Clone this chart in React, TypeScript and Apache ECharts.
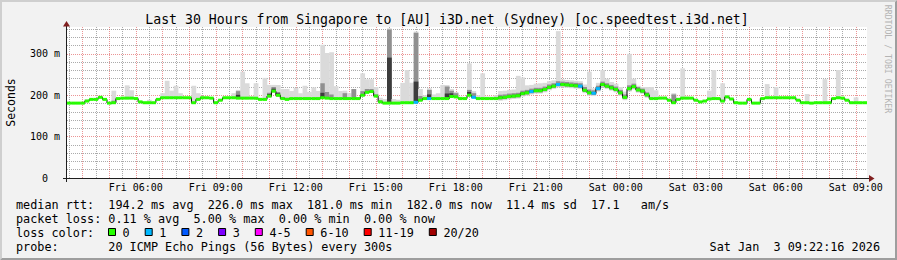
import React, { useEffect, useRef } from "react";
import * as echarts from "echarts";

// ---- time frame (hours after Fri 00:00) ----
const START_HOUR = 3.42;
const SPAN_HOURS = 30;
const SAMPLE_HOURS = 1 / 6; // one value per 10 minutes
const Y_MAX = 365;

// ---- median RTT (ms), one value per 10 min ----
const medianRtt = [
  181, 181, 181, 181, 186, 190, 190, 195, 190, 181,
  182, 192, 193, 193, 193, 192, 184, 182, 182, 182,
  190, 194, 194, 194, 194, 194, 194, 194, 182, 190,
  194, 194, 193, 182, 188, 194, 194, 194, 193, 193,
  193, 193, 193, 190, 190, 198, 210, 200, 192, 190,
  192, 192, 192, 192, 192, 192, 192, 194, 193, 192,
  192, 192, 192, 192, 192, 192, 200, 207, 209, 198,
  184, 181, 181, 181, 181, 182, 182, 182, 183, 188,
  192, 192, 192, 192, 192, 192, 197, 196, 192, 192,
  200, 195, 192, 192, 192, 192, 192, 194, 195, 197,
  198, 199, 204, 206, 209, 211, 211, 214, 219, 222,
  226, 226, 225, 224, 223, 222, 212, 206, 205, 216,
  226, 222, 218, 214, 206, 195, 216, 221, 213, 210,
  201, 192, 192, 193, 193, 188, 182, 190, 193, 193,
  193, 188, 184, 186, 191, 192, 192, 186, 196, 191,
  182, 181, 181, 190, 181, 181, 192, 194, 194, 194,
  194, 194, 194, 194, 188, 182, 182, 181, 182, 182,
  182, 182, 192, 194, 193, 188, 182, 182, 182, 182,
];

// ---- smoke: spread of the slowest pings above the median (ms) ----
const smokeUp = [
  0, 0, 0, 0, 3, 0, 0, 2, 0, 0,
  29, 0, 0, 31, 19, 0, 0, 0, 7, 0,
  0, 11, 41, 17, 29, 11, 0, 0, 41, 15,
  4, 0, 0, 0, 0, 0, 0, 11, 20, 64,
  36, 5, 36, 4, 52, 27, 15, 25, 23, 25,
  18, 26, 13, 31, 16, 27, 18, 128, 109, 112,
  30, 18, 19, 13, 23, 4, 53, 32, 30, 22,
  10, 10, 181, 10, 8, 48, 79, 48, 171, 27,
  8, 25, 10, 13, 33, 33, 18, 12, 5, 4,
  77, 15, 8, 61, 5, 5, 8, 16, 16, 16,
  16, 48, 39, 18, 16, 17, 18, 16, 15, 14,
  129, 12, 12, 12, 12, 12, 14, 51, 12, 14,
  35, 18, 14, 14, 14, 14, 84, 19, 10, 10,
  19, 28, 20, 4, 4, 4, 23, 4, 72, 4,
  0, 0, 0, 0, 20, 69, 0, 43, 4, 0,
  0, 0, 0, 0, 0, 0, 0, 33, 0, 26,
  0, 0, 0, 0, 0, 0, 21, 0, 0, 0,
  57, 0, 0, 67, 0, 0, 0, 13, 0, 0,
];
// middle pings above the median (ms)
const smokeMid = [
  0, 0, 0, 0, 3, 0, 0, 0, 0, 0,
  5, 0, 0, 0, 0, 0, 0, 0, 0, 0,
  0, 0, 0, 0, 0, 0, 0, 0, 0, 0,
  0, 0, 0, 0, 0, 0, 0, 0, 17, 0,
  0, 0, 0, 0, 0, 8, 10, 8, 4, 4,
  0, 0, 0, 0, 0, 0, 0, 35, 15, 10,
  0, 0, 13, 0, 23, 0, 10, 8, 6, 4,
  4, 0, 178, 0, 0, 0, 0, 0, 168, 10,
  0, 21, 0, 0, 0, 29, 14, 9, 0, 0,
  13, 10, 0, 0, 0, 0, 4, 7, 7, 7,
  7, 7, 7, 7, 7, 7, 7, 7, 7, 7,
  8, 7, 7, 7, 7, 7, 8, 8, 7, 7,
  7, 7, 7, 7, 7, 7, 8, 7, 7, 6,
  6, 0, 0, 0, 0, 0, 20, 0, 0, 0,
  0, 0, 0, 0, 0, 0, 0, 0, 0, 0,
  0, 0, 0, 0, 0, 0, 0, 0, 0, 0,
  0, 0, 0, 0, 0, 0, 0, 0, 0, 0,
  0, 0, 0, 0, 0, 0, 0, 0, 0, 0,
];
// pings closest to the median, above it (ms)
const smokeDark = [
  0, 0, 0, 0, 0, 0, 0, 0, 0, 0,
  0, 0, 0, 0, 0, 0, 0, 0, 0, 0,
  0, 0, 0, 0, 0, 0, 0, 0, 0, 0,
  0, 0, 0, 0, 0, 0, 0, 0, 8, 0,
  0, 0, 0, 0, 0, 5, 6, 5, 0, 0,
  0, 0, 0, 0, 0, 0, 0, 12, 0, 0,
  0, 0, 0, 0, 0, 0, 0, 0, 0, 0,
  0, 0, 110, 0, 0, 0, 0, 0, 50, 0,
  0, 10, 0, 0, 0, 12, 8, 0, 0, 0,
  8, 0, 0, 0, 0, 0, 0, 3, 3, 3,
  3, 3, 3, 3, 3, 3, 3, 3, 3, 3,
  3, 3, 3, 3, 3, 3, 3, 3, 3, 3,
  3, 3, 3, 3, 3, 3, 3, 3, 3, 3,
  3, 0, 0, 0, 0, 0, 0, 0, 0, 0,
  0, 0, 0, 0, 0, 0, 0, 0, 0, 0,
  0, 0, 0, 0, 0, 0, 0, 0, 0, 0,
  0, 0, 0, 0, 0, 0, 0, 0, 0, 0,
  0, 0, 0, 0, 0, 0, 0, 0, 0, 0,
];
// fastest pings below the median (ms)
const smokeDown = [
  0, 0, 0, 0, 0, 0, 0, 0, 0, 0,
  0, 0, 0, 0, 0, 0, 0, 0, 0, 0,
  0, 0, 0, 0, 0, 0, 0, 0, 0, 0,
  0, 0, 0, 0, 0, 0, 0, 0, 0, 0,
  0, 0, 0, 0, 0, 4, 4, 4, 0, 0,
  0, 0, 0, 0, 0, 0, 0, 0, 0, 0,
  0, 0, 0, 0, 0, 0, 0, 0, 0, 0,
  0, 0, 0, 0, 0, 0, 0, 0, 0, 0,
  0, 0, 0, 0, 0, 0, 0, 0, 0, 0,
  0, 0, 0, 0, 0, 0, 3, 7, 7, 7,
  7, 7, 7, 7, 7, 7, 7, 7, 7, 7,
  7, 7, 7, 7, 7, 7, 7, 7, 7, 7,
  7, 7, 7, 7, 7, 7, 7, 7, 7, 7,
  7, 0, 0, 0, 0, 0, 0, 0, 0, 0,
  0, 0, 0, 0, 0, 0, 0, 0, 0, 0,
  0, 0, 0, 0, 0, 0, 0, 0, 0, 0,
  0, 0, 0, 0, 0, 0, 0, 0, 0, 0,
  0, 0, 0, 0, 0, 0, 0, 0, 0, 0,
];
// [sample index, lost pings of 20]
const lossSamples: [number, number][] = [
  [78, 1], [81, 1], [91, 1], [104, 1], [110, 1], [115, 1], [118, 1], [119, 1],
];

// ---- axes ----
const xLabelHours = [6, 9, 12, 15, 18, 21, 24, 27, 30, 33];
const yTickValues = [0, 100, 200, 300];

// ---- texts ----
const titleText = "Last 30 Hours from Singapore to [AU] i3D.net (Sydney) [oc.speedtest.i3d.net]";
const rttRow: [string, number][] = [
  ["median rtt:", 0], ["194.2 ms avg", 13], ["226.0 ms max", 27], ["181.0 ms min", 41],
  ["182.0 ms now", 55], ["11.4 ms sd", 69], ["17.1", 81], ["am/s", 88],
];
const lossRow: [string, number][] = [
  ["packet loss:", 0], ["0.11 % avg", 13], ["5.00 % max", 25], ["0.00 % min", 37], ["0.00 % now", 49],
];
const lossLegend: [string, string][] = [
  ["0", "#26ff00"], ["1", "#00b8ff"], ["2", "#0059ff"], ["3", "#7e00ff"],
  ["4-5", "#ff00ff"], ["6-10", "#ff5500"], ["11-19", "#ff0000"], ["20/20", "#a10000"],
];
const lossUpper = [0, 1, 2, 3, 5, 10, 19, 20];
const probeText = "20 ICMP Echo Pings (56 Bytes) every 300s";
const dateText = "Sat Jan  3 09:22:16 2026";

const MONO = "'DejaVu Sans Mono', monospace";
const W = 897;
const H = 260;
const GL = 67, GT = 27, GR = 867, GB = 178;
const CH = 7.1; // legend char advance
const LX = 16;

function lossColor(n: number) {
  for (let k = 0; k < lossUpper.length; k++) if (n <= lossUpper[k]) return lossLegend[k][1];
  return lossLegend[lossLegend.length - 1][1];
}

function hourLabel(v: number) {
  const h = Math.round(v);
  const day = h < 24 ? "Fri" : "Sat";
  return `${day} ${String(h % 24).padStart(2, "0")}:00`;
}

export default function App() {
  const ref = useRef<HTMLDivElement>(null);
  useEffect(() => {
    if (!ref.current) return;
    const chart = echarts.init(ref.current, undefined, { renderer: "svg" });

    const samples = medianRtt.map((m, i) => {
      const t = START_HOUR + i * SAMPLE_HOURS;
      const l = lossSamples.find((s) => s[0] === i);
      return [t, t + SAMPLE_HOURS, m, smokeUp[i], smokeMid[i], smokeDark[i], smokeDown[i], l ? l[1] : 0];
    });
    const lineData = medianRtt.map((m, i) => [START_HOUR + i * SAMPLE_HOURS, m]);
    lineData.push([START_HOUR + SPAN_HOURS, medianRtt[medianRtt.length - 1]]);

    const gridLines: number[][] = [];
    for (let k = Math.ceil(START_HOUR * 2); k / 2 < START_HOUR + SPAN_HOURS; k++) {
      gridLines.push([k / 2, k % 2 === 0 ? 1 : 0]);
    }

    const txt = (text: string, x: number, y: number, extra: any = {}) => ({
      type: "text",
      x,
      y,
      z: 50,
      silent: true,
      style: {
        text,
        fontFamily: MONO,
        fontSize: 11.8,
        fill: "#000",
        align: "left",
        verticalAlign: "middle",
        ...extra,
      },
    });

    const graphics: any[] = [];
    // 3d frame
    graphics.push({
      type: "polygon", z: 50, silent: true,
      shape: { points: [[0, H], [2, H - 2], [2, 2], [W - 2, 2], [W, 0], [0, 0]] },
      style: { fill: "#cfcfcf" },
    });
    graphics.push({
      type: "polygon", z: 50, silent: true,
      shape: { points: [[2, H - 2], [W - 2, H - 2], [W - 2, 2], [W, 0], [W, H], [0, H]] },
      style: { fill: "#9e9e9e" },
    });
    graphics.push(txt(titleText, 447, 19, { fontSize: 13.2, align: "center" }));
    graphics.push({
      ...txt("Seconds", 10.5, 102.5, { fontSize: 11.5, align: "center" }),
      rotation: Math.PI / 2,
    });
    graphics.push({
      ...txt("RRDTOOL / TOBI OETIKER", 888, 59, { fontSize: 8.2, align: "center", fill: "#b4b4b4" }),
      rotation: -Math.PI / 2,
    });
    // axes
    graphics.push({
      type: "line", z: 60, silent: true,
      shape: { x1: 63, y1: GB + 0.5, x2: 870, y2: GB + 0.5 },
      style: { stroke: "#1f1f1f", lineWidth: 1 },
    });
    graphics.push({
      type: "line", z: 60, silent: true,
      shape: { x1: GL - 0.5, y1: 182, x2: GL - 0.5, y2: 24 },
      style: { stroke: "#1f1f1f", lineWidth: 1 },
    });
    graphics.push({
      type: "polygon", z: 61, silent: true,
      shape: { points: [[869, GB - 3], [874.5, GB + 0.5], [869, GB + 4]] },
      style: { fill: "#801f1f" },
    });
    graphics.push({
      type: "polygon", z: 61, silent: true,
      shape: { points: [[GL - 4, 26.5], [GL - 0.5, 21], [GL + 3, 26.5]] },
      style: { fill: "#801f1f" },
    });
    // legend rows
    rttRow.forEach(([s, c]) => graphics.push(txt(s, LX + c * CH, 204.5)));
    lossRow.forEach(([s, c]) => graphics.push(txt(s, LX + c * CH, 218.5)));
    graphics.push(txt("loss color:", LX, 232.5));
    let bx = 108;
    lossLegend.forEach(([label, color]) => {
      graphics.push({
        type: "rect", z: 50, silent: true,
        shape: { x: bx + 0.5, y: 228.5, width: 7, height: 7 },
        style: { fill: color, stroke: "#000", lineWidth: 1 },
      });
      const lx = bx + 14.6;
      graphics.push(txt(label, lx, 232.5));
      bx = lx + label.length * CH + 15;
    });
    graphics.push(txt("probe:", LX, 246.5));
    graphics.push(txt(probeText, LX + 13 * CH, 246.5));
    graphics.push(txt(dateText, 880, 246.5, { align: "right" }));

    const option: any = {
      animation: false,
      backgroundColor: "#f2f2f2",
      grid: {
        left: GL, right: W - GR, top: GT, bottom: H - GB,
        show: true, backgroundColor: "#ffffff", borderWidth: 0,
      },
      xAxis: {
        type: "value",
        min: START_HOUR,
        max: START_HOUR + SPAN_HOURS,
        axisLine: { show: false },
        axisTick: { show: false },
        splitLine: { show: false },
        axisLabel: {
          customValues: xLabelHours,
          formatter: (v: number) => hourLabel(v),
          color: "#000",
          fontFamily: MONO,
          fontSize: 10,
          margin: 4,
        },
      },
      yAxis: {
        type: "value",
        min: 0,
        max: Y_MAX,
        interval: 100,
        axisLine: { show: false },
        axisTick: { show: false },
        axisLabel: {
          color: "#000",
          fontFamily: MONO,
          fontSize: 10,
          margin: 7,
          showMaxLabel: false,
          formatter: (v: number) =>
            v === 0 ? "{z|0}" : yTickValues.includes(v) ? `${v} m` : "",
          rich: { z: { fontFamily: MONO, fontSize: 10, color: "#000", padding: [0, 12, 0, 0] } },
        },
        splitLine: {
          show: true,
          showMaxLine: false,
          lineStyle: { color: "rgba(222,79,79,0.6)", type: [1, 1], width: 1 },
        },
        minorTick: { show: false, splitNumber: 5 },
        minorSplitLine: {
          show: true,
          lineStyle: { color: "rgba(143,143,143,0.75)", type: [1, 1], width: 1 },
        },
      },
      series: [
        {
          type: "custom",
          name: "grid",
          silent: true,
          z: 1,
          data: gridLines,
          renderItem: (_p: any, api: any) => {
            const h = api.value(0);
            const major = api.value(1);
            const top = api.coord([h, Y_MAX]);
            const bot = api.coord([h, 0]);
            const x = Math.round(top[0]) + 0.5;
            return {
              type: "line",
              shape: { x1: x, y1: top[1], x2: x, y2: bot[1] },
              style: {
                stroke: major ? "rgba(222,79,79,0.6)" : "rgba(143,143,143,0.75)",
                lineWidth: 1,
                lineDash: [1, 1],
              },
            };
          },
        },
        {
          type: "custom",
          name: "smoke",
          silent: true,
          z: 2,
          data: samples,
          renderItem: (_p: any, api: any) => {
            const t0 = api.value(0);
            const t1 = api.value(1);
            const med = api.value(2);
            const up = api.value(3);
            const mid = api.value(4);
            const dark = api.value(5);
            const down = api.value(6);
            const xa = api.coord([t0, 0])[0];
            const xb = api.coord([t1, 0])[0];
            const children: any[] = [];
            const band = (lo: number, hi: number, color: string) => {
              if (hi - lo <= 0) return;
              const yt = api.coord([t0, hi])[1];
              const yb = api.coord([t0, lo])[1];
              children.push({
                type: "rect",
                shape: { x: xa, y: yt, width: xb - xa + 0.3, height: yb - yt },
                style: { fill: color },
              });
            };
            band(med - down, med + up, "#dadada");
            band(med - down * 0.6, med + mid, "#909090");
            band(med - down * 0.3, med + dark, "#3c3c3c");
            return { type: "group", children };
          },
        },
        {
          type: "line",
          name: "median",
          silent: true,
          z: 3,
          step: "end",
          symbol: "none",
          data: lineData,
          lineStyle: { color: "#000", width: 1 },
        },
        {
          type: "custom",
          name: "loss",
          silent: true,
          z: 4,
          data: samples,
          renderItem: (_p: any, api: any) => {
            const a = api.coord([api.value(0), api.value(2)]);
            const b = api.coord([api.value(1), api.value(2)]);
            return {
              type: "rect",
              shape: { x: a[0], y: a[1] - 1.5, width: b[0] - a[0], height: 3 },
              style: { fill: lossColor(api.value(7)) },
            };
          },
        },
      ],
      graphic: { elements: graphics },
    };
    chart.setOption(option);
    return () => chart.dispose();
  }, []);

  return (
    <div
      ref={ref}
      style={{ position: "fixed", left: 0, top: 0, width: W, height: H }}
    />
  );
}
